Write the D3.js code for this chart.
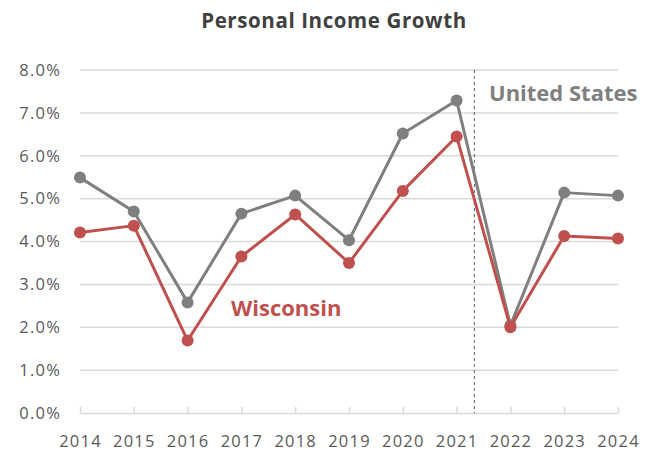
<!DOCTYPE html>
<html>
<head>
<meta charset="utf-8">
<script src="https://cdn.jsdelivr.net/npm/d3@7"></script>
<style>
  html, body { margin: 0; padding: 0; background: #fff; }
  svg { display: block; font-family: "Open Sans", "Noto Sans", sans-serif; }
</style>
</head>
<body>
<svg id="chart" width="653" height="452"></svg>
<script>
const years = [2014, 2015, 2016, 2017, 2018, 2019, 2020, 2021, 2022, 2023, 2024];
const usValues = [5.49, 4.70, 2.58, 4.65, 5.07, 4.03, 6.52, 7.29, 2.04, 5.14, 5.07];
const wiValues = [4.21, 4.37, 1.69, 3.65, 4.63, 3.50, 5.18, 6.45, 2.00, 4.13, 4.07];
const yTicks = [0, 1, 2, 3, 4, 5, 6, 7, 8];
const titleText = "Personal Income Growth";
const usLabel = "United States";
const wiLabel = "Wisconsin";
const forecastStart = 2021.33;

(function () {
const svg = d3.select("#chart");
const mLeft = 80, mRight = 618, mTop = 70, mBottom = 413;

const x = d3.scaleLinear().domain([2014, 2024]).range([mLeft, mRight]);
const y = d3.scaleLinear().domain([0, 8]).range([mBottom, mTop]);

const gray = "#7f7f7f", red = "#c0504d", grid = "#d9d9d9", textCol = "#595959";

// Title
svg.append("text").attr("x", 334).attr("y", 28).attr("text-anchor", "middle")
  .attr("font-size", 20.5).attr("font-weight", "bold").attr("letter-spacing", 0.6)
  .attr("fill", "#404040").text(titleText);

// Gridlines
svg.append("g").selectAll("line").data(yTicks.filter(d => d > 0)).join("line")
  .attr("x1", mLeft).attr("x2", mRight)
  .attr("y1", d => y(d)).attr("y2", d => y(d))
  .attr("stroke", grid).attr("stroke-width", 1.5);

// Y axis labels
const yAxis = d3.axisLeft(y).tickValues(yTicks).tickFormat(d => d.toFixed(1) + "%").tickSize(0).tickPadding(19);
const yg = svg.append("g").attr("transform", `translate(${mLeft},0)`).call(yAxis);
yg.select(".domain").remove();
yg.selectAll("text").attr("font-size", 16.5).attr("letter-spacing", 1.2)
  .attr("fill", textCol).attr("font-family", "Open Sans");

// X axis (tick marks point up into the plot)
const xAxis = d3.axisBottom(x).tickValues(years).tickFormat(d3.format("d")).tickSize(-6).tickSizeOuter(0).tickPadding(22);
const xg = svg.append("g").attr("transform", `translate(0,${mBottom})`).call(xAxis);
xg.select(".domain").attr("stroke", grid).attr("stroke-width", 1.5);
xg.selectAll(".tick line").attr("stroke", grid).attr("stroke-width", 1.5);
xg.selectAll("text").attr("font-size", 16.5).attr("letter-spacing", 1.2)
  .attr("fill", textCol).attr("font-family", "Open Sans");

// Dashed forecast line
svg.append("line").attr("x1", x(forecastStart)).attr("x2", x(forecastStart))
  .attr("y1", y(8)).attr("y2", y(0))
  .attr("stroke", "#595959").attr("stroke-width", 1).attr("stroke-dasharray", "3,3");

// Lines
const line = d3.line().x((d, i) => x(years[i])).y(d => y(d));
const series = [
  { values: usValues, color: gray },
  { values: wiValues, color: red }
];
series.forEach(s => {
  svg.append("path").datum(s.values).attr("d", line)
    .attr("fill", "none").attr("stroke", s.color).attr("stroke-width", 3).attr("stroke-linejoin", "round");
  svg.append("g").selectAll("circle").data(s.values).join("circle")
    .attr("cx", (d, i) => x(years[i])).attr("cy", d => y(d)).attr("r", 6).attr("fill", s.color);
});

// Series labels
svg.append("text").attr("x", 489).attr("y", 101).attr("font-size", 22).attr("font-weight", "bold")
  .attr("fill", gray).text(usLabel);
svg.append("text").attr("x", 231).attr("y", 316).attr("font-size", 22).attr("font-weight", "bold")
  .attr("fill", red).text(wiLabel);
})();
</script>
</body>
</html>
